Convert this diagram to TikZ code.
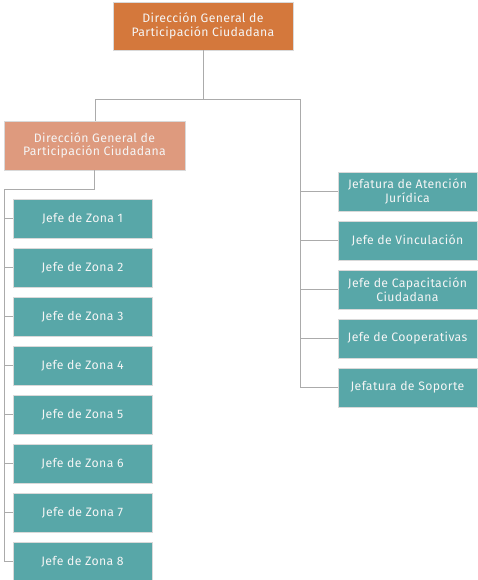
\documentclass[tikz,border=0pt]{standalone}
\usepackage{fontspec}
\setmainfont{Fira Sans}[LetterSpace=3]
\begin{document}
\begin{tikzpicture}[x=1bp,y=-1bp,
  box/.style={draw=white!85!black, line width=0.6bp, text=white!92!gray, align=center,
    inner sep=0pt, font=\fontsize{12.3}{13.5}\selectfont},
  topbox/.style={box, fill=dirtop, minimum width=180bp, minimum height=48bp},
  dirbox/.style={box, fill=dirsub, minimum width=181bp, minimum height=49bp},
  zonebox/.style={box, fill=teal, minimum width=139bp, minimum height=39bp},
  link/.style={draw=linegray, line width=1bp}]
\definecolor{dirtop}{HTML}{D4783C}
\definecolor{dirsub}{HTML}{DE9A7E}
\definecolor{teal}{HTML}{58A7A8}
\definecolor{linegray}{HTML}{ABABAB}
\useasboundingbox (0,0) rectangle (478,580);

% top and second level
\node[topbox] (top) at (203,26) {Dirección General de\\Participación Ciudadana};
\node[dirbox] (dir) at (94.5,145.5) {Dirección General de\\Participación Ciudadana};

% left column: zone heads
\foreach \i in {1,...,8}{
  \node[zonebox] (z\i) at (82.5,{218.5+49*(\i-1)}) {Jefe de Zona \i};
}

% right column
\node[zonebox] (r1) at (407.5,191.5) {Jefatura de Atención\\Jurídica};
\node[zonebox] (r2) at (407.5,240.5) {Jefe de Vinculación};
\node[zonebox] (r3) at (407.5,289.5) {Jefe de Capacitación\\Ciudadana};
\node[zonebox] (r4) at (407.5,338.5) {Jefe de Cooperativas};
\node[zonebox] (r5) at (407.5,387.5) {Jefatura de Soporte};

% connectors
\coordinate (bus) at (203,100);
\coordinate (rbus) at (300,100);
\coordinate (lbus) at (4,189);
\path[link] (top.south) -- (bus);
\path[link] (dir.north -| 95,0) -- (95,100) -- (rbus) -- (rbus |- r5.west);
\path[link] (dir.south) -- (94.5,189) -- (lbus) -- (lbus |- z8.west);
\foreach \i in {1,...,8}{ \path[link] (lbus |- z\i.west) -- (z\i.west); }
\foreach \i in {1,...,5}{ \path[link] (rbus |- r\i.west) -- (r\i.west); }
\end{tikzpicture}
\end{document}
